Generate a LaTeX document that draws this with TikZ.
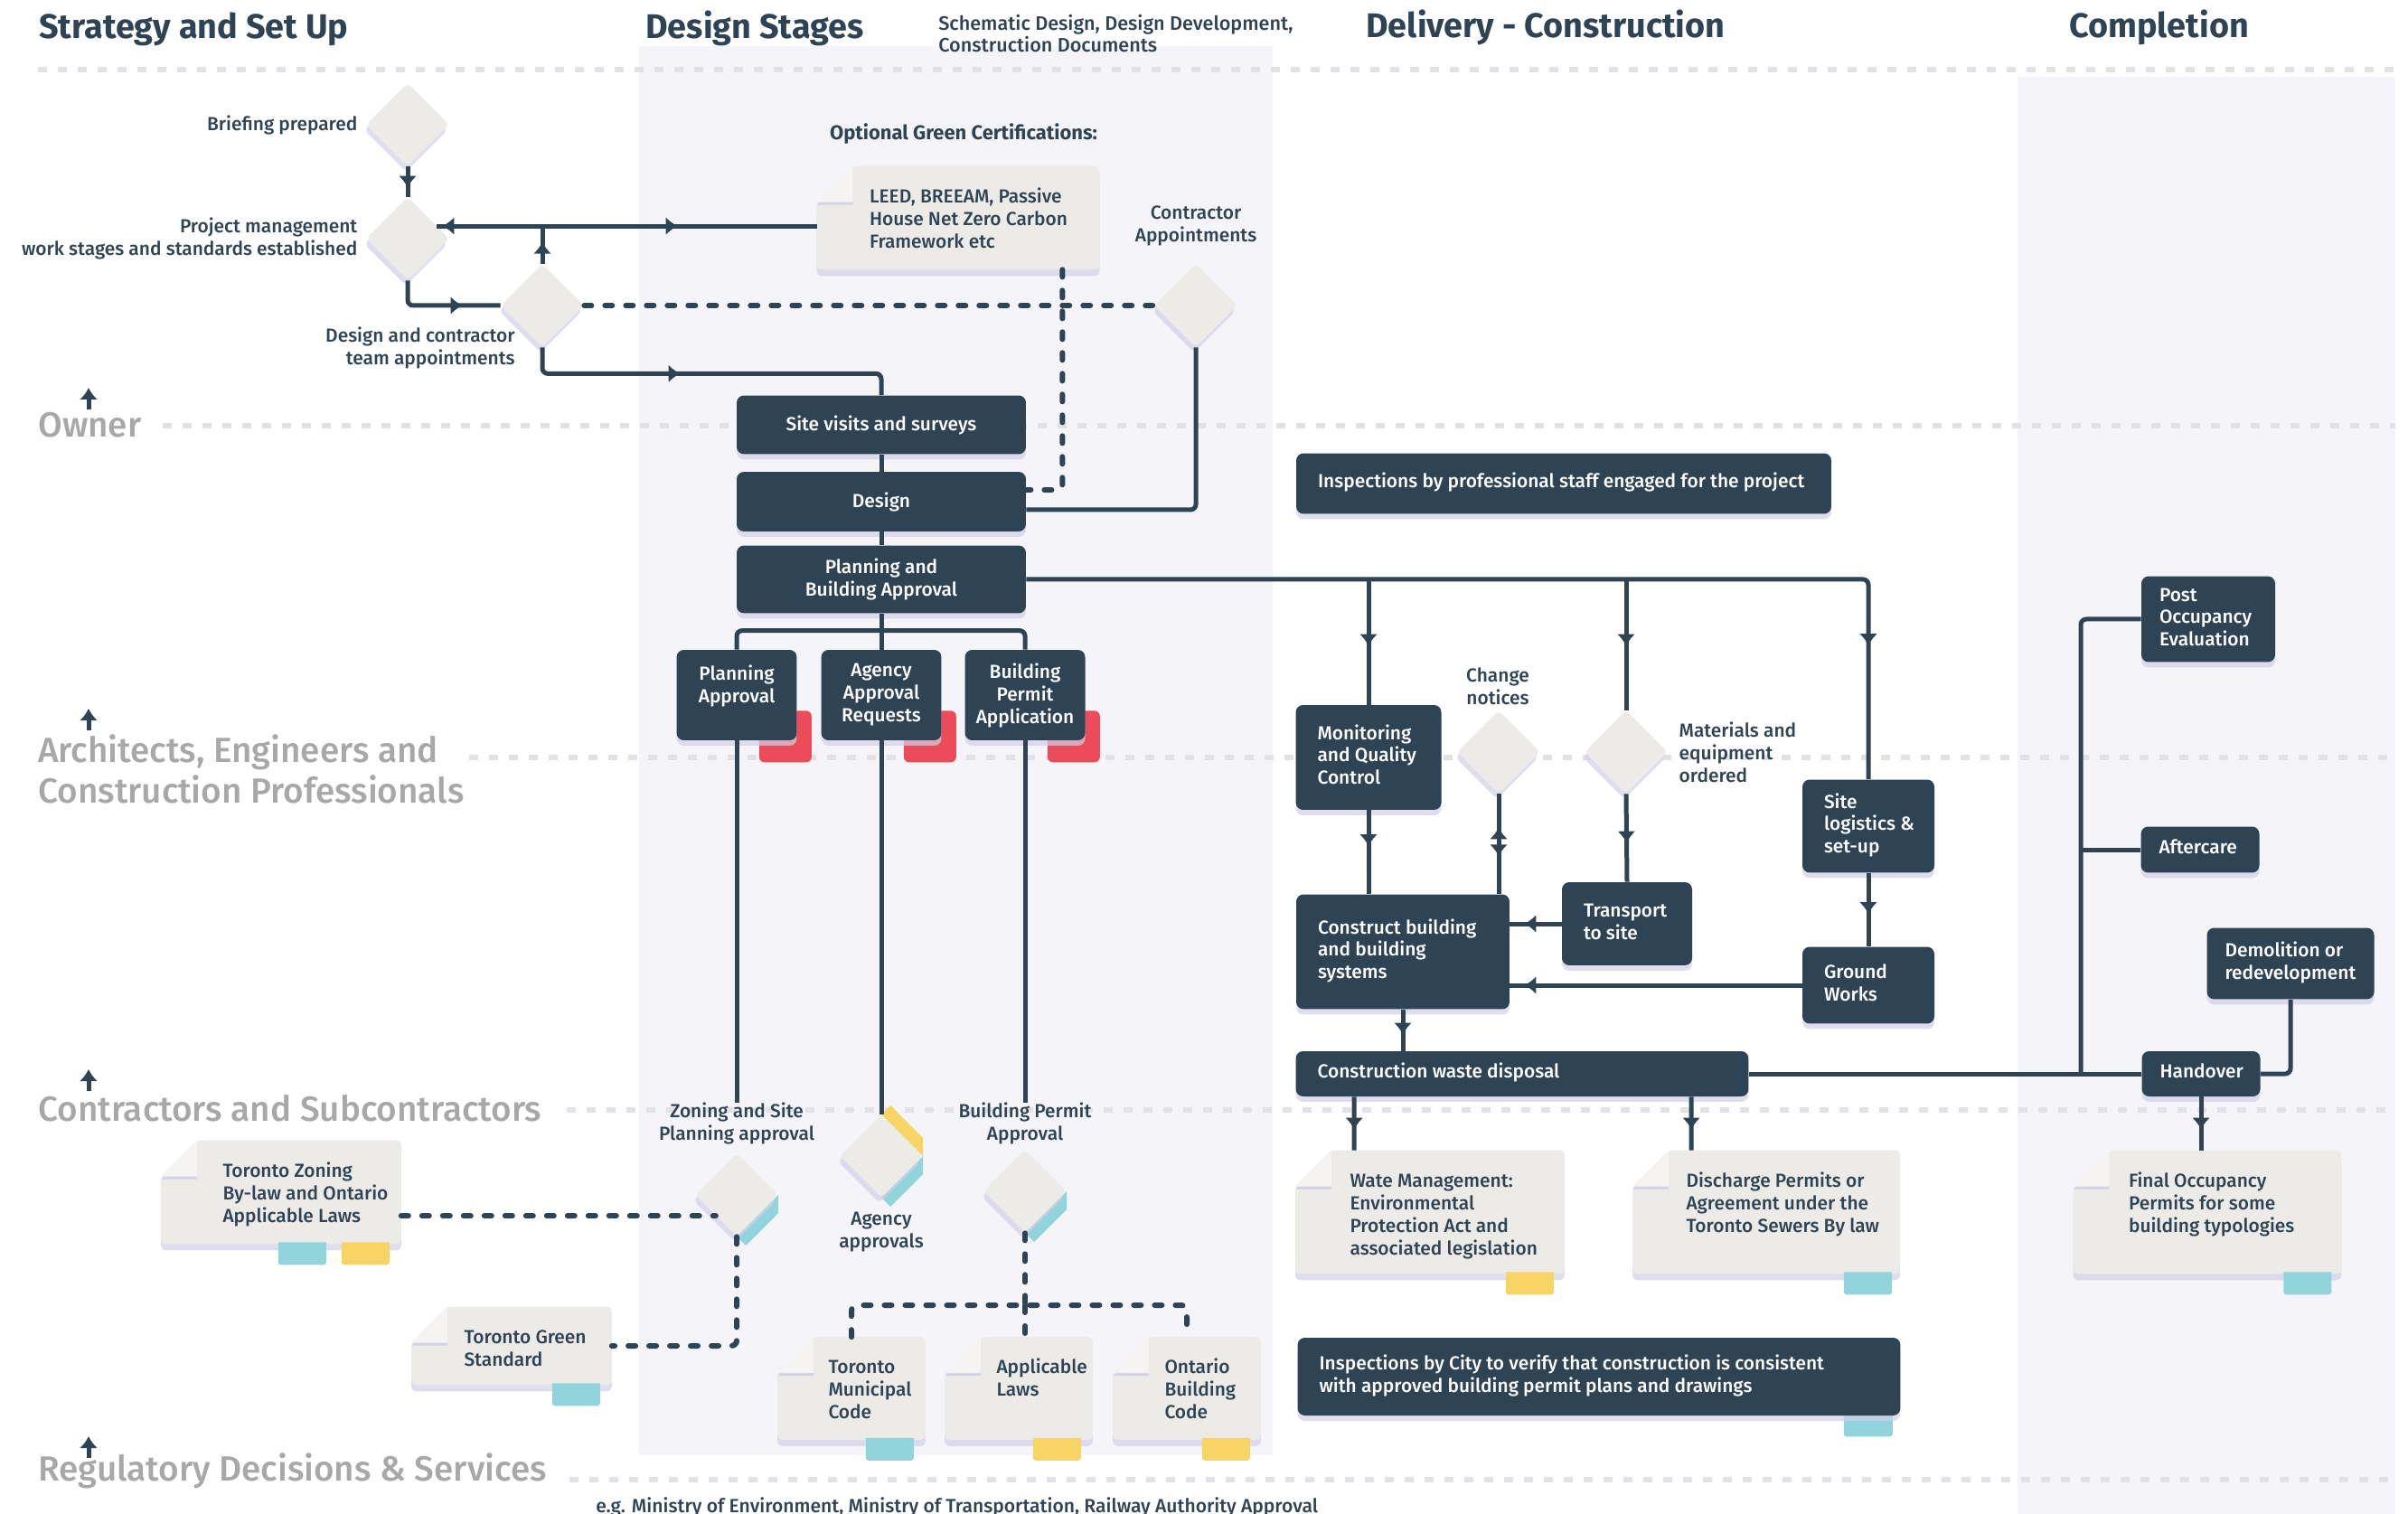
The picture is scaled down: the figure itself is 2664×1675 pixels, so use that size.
\documentclass[tikz,border=0pt]{standalone}
\usepackage{fontspec}
\setmainfont{Fira Sans}[UprightFont={* Medium},BoldFont={* Bold}]
\usetikzlibrary{shapes.geometric,arrows.meta,decorations.markings,shadows,positioning,calc}

\definecolor{navy}{HTML}{2E4354}
\definecolor{paperc}{HTML}{ECEBE8}
\definecolor{flapc}{HTML}{F5F4F2}
\definecolor{bandc}{HTML}{F4F4F9}
\definecolor{lanec}{HTML}{E1E1E6}
\definecolor{labc}{HTML}{A8A8A8}
\definecolor{redc}{HTML}{EC4C5A}
\definecolor{tealc}{HTML}{92D4DB}
\definecolor{yellc}{HTML}{F8D465}
\definecolor{shadc}{HTML}{D2D0E8}

\pgfdeclarelayer{background}
\pgfsetlayers{background,main}

\hfuzz=80pt
\newcommand{\boxfont}{\fontsize{11.9}{14.2}\selectfont}
\newcommand{\lanefont}{\fontsize{22}{25.6}\selectfont}
\newcommand{\headfont}{\fontsize{21.5}{24}\selectfont\bfseries}
\newcommand{\subfont}{\fontsize{12.3}{13.7}\selectfont}

% left set lines of a box, kept to the given width
\newcommand{\leftlines}[2]{\makebox[#1][l]{\begin{tabular}{@{}l@{}}#2\end{tabular}}}
% text of a paper sheet: width, height, left indent, lines
\newcommand{\notetext}[4]{\parbox[c][#2][t]{#1}{\hspace*{#3}\begin{tabular}[t]{@{}l@{}}#4\end{tabular}}}

% sheet with folded corner drawn under a note node
\newcommand{\papersheet}[1]{%
  \fill[paperc, rounded corners=0.1cm,
    drop shadow={shadow xshift=0pt,shadow yshift=-0.14cm,fill=shadc,opacity=0.7}]
    ([xshift=0.8cm]#1.north west) -- (#1.north east) -- (#1.south east)
    -- (#1.south west) -- ([yshift=-0.8cm]#1.north west) -- cycle;
  \fill[flapc, drop shadow={shadow xshift=0pt,shadow yshift=-0.06cm,fill=shadc,opacity=0.9}]
    ([xshift=0.8cm]#1.north west) -- ([yshift=-0.8cm]#1.north west)
    -- ([xshift=0.8cm,yshift=-0.8cm]#1.north west) -- cycle;}

% coloured tab under a sheet: node, colour, shift to the left
\newcommand{\notetab}[3]{%
  \fill[#2, rounded corners=0.06cm] ($(#1.south east)+(-65-#3,-2)$) -- ++(0,25) -- ++(53,0) -- ++(0,-25);}

% coloured strips along a gate
\newcommand{\lowstrip}[2]{%
  \fill[#2] ($(#1)+(46,0)$) -- ($(#1)+(46,20)$) -- ($(#1)+(10,56)$) -- ($(#1)+(0,46)$) -- cycle;}
\newcommand{\highstrip}[2]{%
  \fill[#2] ($(#1)+(0,-46)$) -- ($(#1)+(10,-56)$) -- ($(#1)+(46,-20)$) -- ($(#1)+(46,0)$) -- cycle;}

\begin{document}
\begin{tikzpicture}[x=0.02cm, y=-0.02cm,
    dbox/.style={rectangle, rounded corners=0.16cm, fill=navy, text=white,
      font=\boxfont, inner ysep=0pt,
      drop shadow={shadow xshift=0pt,shadow yshift=-0.12cm,fill=shadc,opacity=0.7}},
    mbox/.style={dbox, inner xsep=0.2cm, align=center},
    lbox/.style={dbox, inner xsep=0.48cm},
    cbox/.style={dbox, inner xsep=0.4cm},
    gate/.style={diamond, aspect=1, minimum width=1.84cm, minimum height=1.84cm,
      inner sep=0pt, rounded corners=0.1cm, fill=paperc,
      drop shadow={shadow xshift=-0.04cm,shadow yshift=-0.12cm,fill=shadc,opacity=0.7}},
    note/.style={inner xsep=0.2cm, inner ysep=0.46cm, font=\boxfont, text=navy},
    lbl/.style={font=\boxfont, text=navy, inner sep=0pt, align=center},
    lanelbl/.style={font=\lanefont, text=labc, inner sep=0pt, align=left},
    stagehead/.style={font=\headfont, text=navy, inner sep=0pt},
    line/.style={draw=navy, line width=0.1cm},
    dashline/.style={draw=navy, line width=0.12cm, line cap=round, dash pattern=on 0.16cm off 0.3cm},
    laneline/.style={draw=lanec, line width=0.12cm, dash pattern=on 0.2cm off 0.24cm},
    tipat/.style={postaction={decorate, decoration={markings,
      mark=at position #1 with {\pgfsetcornersarced{\pgfpointorigin}\arrow{Latex[length=0.26cm,width=0.4cm]}}}}},
    tipback/.style={postaction={decorate, decoration={markings,
      mark=at position #1 with {\pgfsetcornersarced{\pgfpointorigin}\arrowreversed{Latex[length=0.26cm,width=0.4cm]}}}}}
  ]
  \useasboundingbox (0,0) rectangle (2664,1675);

  % stage headings
  \node[stagehead, anchor=base west] (hstrat) at (43,43) {Strategy and Set Up};
  \node[stagehead, anchor=base west] (hdesign) at (714,43) {Design Stages};
  \node[lbl, align=left, anchor=west, font=\subfont] (hsub) at (1038,37) {Schematic Design, Design Development,\\Construction Documents};
  \node[stagehead, anchor=base west] (hdeliv) at (1511,42) {Delivery - Construction};
  \node[stagehead, anchor=base west] (hcompl) at (2289,42) {Completion};

  % swimlanes
  \node[lanelbl, anchor=base west] (owner) at (42,484) {Owner};
  \node[lanelbl, anchor=west] (prof) at (42,851) {Architects, Engineers and\\Construction Professionals};
  \node[lanelbl, anchor=base west] (contr) at (42,1240) {Contractors and Subcontractors};
  \node[lanelbl, anchor=base west] (reg) at (42,1638) {Regulatory Decisions \& Services};
  \foreach \y in {453,808,1207,1613}
    \draw[line, -{Latex[length=0.26cm,width=0.4cm]}] (98,\y) -- ++(0,-24);

  % gates
  \node[gate] (brief) at (451,138) {};
  \node[gate] (pm) at (451,264) {};
  \node[gate] (dc) at (600,338) {};
  \node[gate] (ca) at (1323,338) {};
  \node[gate] (chg) at (1658,832) {};
  \node[gate] (matd) at (1799,832) {};
  \node[gate] (zond) at (815,1322) {};
  \node[gate] (agencyd) at (975,1279) {};
  \node[gate] (bpd) at (1134,1318) {};

  \node[lbl, left=0.18cm of brief] (lbrief) {Briefing prepared};
  \node[lbl, align=right, left=0.18cm of pm] (lpm) {Project management\\work stages and standards established};
  \node[lbl, align=right, anchor=east] (ldc) at (570,385) {Design and contractor\\team appointments};
  \node[lbl] (lca) at (1323,250) {Contractor\\Appointments};
  \node[lbl] (lchg) at (1657,759) {Change\\notices};
  \node[lbl, align=left, right=0.24cm of matd] (lmatd) {Materials and\\equipment\\ordered};
  \node[lbl] (zonlbl) at (815,1243) {Zoning and Site\\Planning approval};
  \node[lbl] (lagency) at (975,1363) {Agency\\approvals};
  \node[lbl] (bplbl) at (1134,1243) {Building Permit\\Approval};
  \node[lbl, font=\fontsize{12.5}{14}\selectfont\bfseries] (optgreen) at (1066,148) {Optional Green Certifications:};
  \node[lbl, anchor=base west, font=\fontsize{12}{14}\selectfont] (egmin) at (659,1673) {e.g. Ministry of Environment, Ministry of Transportation, Railway Authority Approval};

  % design stages
  \node[mbox, minimum width=6.4cm, minimum height=1.3cm] (site) at (975,470) {Site visits and surveys};
  \node[mbox, minimum width=6.4cm, minimum height=1.32cm] (des) at (975,555) {Design};
  \node[mbox, minimum width=6.4cm, minimum height=1.5cm] (planbld) at (975,641) {Planning and\\Building Approval};
  \node[mbox, minimum width=2.66cm, minimum height=2cm] (planappr) at (815,769) {Planning\\Approval\\\mbox{}};
  \node[mbox, minimum width=2.66cm, minimum height=2cm] (agency) at (975,769) {Agency\\Approval\\Requests};
  \node[mbox, minimum width=2.66cm, minimum height=2cm] (bpa) at (1134,769) {Building\\Permit\\Application};

  % delivery
  \node[lbox, minimum height=1.34cm] (insp) at (1730,535) {\leftlines{10.88cm}{Inspections by professional staff engaged for the project}};
  \node[lbox, minimum height=2.32cm] (monitor) at (1514,838) {\leftlines{2.26cm}{Monitoring\\and Quality\\Control}};
  \node[lbox, minimum height=2.06cm] (sitelog) at (2067,914) {\leftlines{1.96cm}{Site\\logistics \&\\set-up}};
  \node[lbox, minimum height=1.84cm] (transport) at (1800,1022) {\leftlines{1.92cm}{Transport\\to site}};
  \node[lbox, minimum height=2.54cm] (construct) at (1552,1053) {\leftlines{3.76cm}{Construct building\\and building\\systems}};
  \node[lbox, minimum height=1.7cm] (ground) at (2067,1090) {\leftlines{1.96cm}{Ground\\Works}};
  \node[lbox, minimum height=1cm] (waste) at (1684,1188) {\leftlines{9.06cm}{Construction waste disposal}};
  \node[lbox, minimum height=1.72cm] (inspcity) at (1769,1523) {\leftlines{12.38cm}{Inspections by City to verify that construction is consistent\\with approved building permit plans and drawings}};

  % completion
  \node[cbox, minimum height=1.9cm] (poe) at (2443,685) {\leftlines{2.16cm}{Post\\Occupancy\\Evaluation}};
  \node[cbox, minimum height=1.02cm] (aftercare) at (2434,940) {\leftlines{1.82cm}{Aftercare}};
  \node[cbox, minimum height=1.58cm] (demol) at (2534,1066) {\leftlines{2.9cm}{Demolition or\\redevelopment}};
  \node[cbox, minimum height=1cm] (handover) at (2435,1188) {\leftlines{1.82cm}{Handover}};

  % paper notes
  \node[note] (leed) at (1060,241) {\notetext{5.84cm}{1.36cm}{0.96cm}{LEED, BREEAM, Passive\\House Net Zero Carbon\\Framework etc}};
  \node[note] (tzoning) at (311,1319) {\notetext{4.9cm}{1.36cm}{1.16cm}{Toronto Zoning\\By-law and Ontario\\Applicable Laws}};
  \node[note] (tgreen) at (566,1489) {\notetext{4.02cm}{0.8cm}{0.96cm}{Toronto Green\\Standard}};
  \node[note] (tmuni) at (942,1536) {\notetext{2.86cm}{1.34cm}{0.92cm}{Toronto\\Municipal\\Code}};
  \node[note] (applaws) at (1127,1536) {\notetext{2.86cm}{1.34cm}{0.94cm}{Applicable\\Laws}};
  \node[note] (ontario) at (1313,1536) {\notetext{2.86cm}{1.34cm}{0.94cm}{Ontario\\Building\\Code}};
  \node[note] (watemgmt) at (1582,1341) {\notetext{5.54cm}{1.8cm}{1cm}{Wate Management:\\Environmental\\Protection Act and\\associated legislation}};
  \node[note] (discharge) at (1954,1341) {\notetext{5.5cm}{1.8cm}{0.98cm}{Discharge Permits or\\Agreement under the\\Toronto Sewers By law}};
  \node[note] (finalocc) at (2442,1341) {\notetext{5.52cm}{1.8cm}{1.02cm}{Final Occupancy\\Permits for some\\building typologies}};

  % owner paths
  \coordinate (pmjoin) at ($(pm.north east)!0.4!(pm.east)$);
  \draw[line, tipat=-0.2cm] (brief.south) -- (pm.north);
  \draw[line, tipat=-0.12cm, tipback=3.08cm] (leed.west |- pmjoin) -- (pmjoin);
  \draw[line, tipat=0.48cm] (dc.north) -- (dc.north |- pmjoin);
  \draw[line, rounded corners=0.12cm, tipat=-0.84cm] (pm.south) |- (dc.west);
  \draw[dashline] (dc.east) -- (ca.west);
  \draw[dashline, rounded corners=0.12cm] ([xshift=-0.82cm]leed.south east) |- ([yshift=0.26cm]des.east);
  \draw[line, rounded corners=0.12cm] (ca.south) |- ([yshift=-0.18cm]des.east);
  \draw[line, rounded corners=0.12cm, tipat=3.58cm] (dc.south) -- ++(0,29) -| (site.north);

  % design paths
  \draw[line] (site) -- (des);
  \draw[line] (des) -- (planbld);
  \draw[line] (planbld) -- (agency);
  \draw[line, rounded corners=0.12cm] (planappr.north) -- ++(0,-21) -| (bpa.north);
  \draw[line] (planappr) -- (zonlbl);
  \draw[line] (agency) -- (agencyd);
  \draw[line] (bpa) -- (bplbl);

  % regulatory paths
  \coordinate (permsplit) at (1134,1444);
  \draw[dashline] (tzoning.east |- zond.south west) -- (zond.south west);
  \draw[dashline, rounded corners=0.12cm] (zond.south) |- (tgreen.east);
  \draw[dashline] (bpd.south) -- (permsplit);
  \draw[dashline, rounded corners=0.12cm] (tmuni.north) |- (permsplit) -| (ontario.north);
  \draw[dashline] (permsplit) -- (permsplit |- applaws.north);

  % delivery paths
  \draw[line, rounded corners=0.12cm, tipat=-2.96cm] (planbld.east) -| (sitelog.north);
  \draw[line, tipat=-1.3cm] (monitor.north |- planbld.east) -- (monitor.north);
  \draw[line, tipat=-1.42cm] (matd.north |- planbld.east) -- (matd.north);
  \draw[line, tipat=-1.06cm] (monitor.south) -- (monitor.south |- construct.north);
  \draw[line, tipback=0.74cm, tipat=1.38cm] (chg.south) -- (chg.south |- construct.north);
  \draw[line, tipat=-0.86cm] (matd.south) -- (transport.north);
  \draw[line, tipat=-0.32cm] (transport.west) -- (transport.west -| construct.east);
  \draw[line, tipat=-0.72cm] (sitelog.south) -- (ground.north);
  \draw[line, tipat=-0.32cm] (ground.west) -- (ground.west -| construct.east);
  \draw[line, tipat=-0.36cm] (construct.south) -- (construct.south |- waste.north);
  \draw[line] (waste.east) -- (handover.west);
  \draw[line, tipat=-0.46cm] ([xshift=1.3cm]waste.south west) -- ([xshift=1.3cm]watemgmt.north west);
  \draw[line, tipat=-0.46cm] ([xshift=8.76cm]waste.south west) -- ([xshift=1.3cm]discharge.north west);

  % completion paths
  \coordinate (spine) at (2302,1188);
  \draw[line, rounded corners=0.12cm] (poe.west) -| (spine);
  \draw[line] (aftercare.west) -- (aftercare.west -| spine);
  \draw[line, rounded corners=0.12cm] (demol.south) |- (handover.east);
  \draw[line, tipat=-0.46cm] (handover.south) -- (handover.south |- finalocc.north);

  \begin{pgfonlayer}{background}
    \fill[white] (0,0) rectangle (2664,1675);
    \fill[bandc] (707,51) rectangle (1408,1610);
    \fill[bandc] (2232,85) rectangle (2650,1675);
    \foreach \x/\y in {42/77, 180/471, 519/838, 627/1228, 630/1637}
      \draw[laneline] (\x,\y) -- (2650,\y);
    % red flags behind the approval boxes
    \foreach \bx in {planappr, agency, bpa}
      \fill[redc, rounded corners=0.12cm] ($(\bx.south east)+(-42,-33)$) rectangle ($(\bx.south east)+(16,24)$);
    % strips on the approval gates
    \lowstrip{zond}{tealc}
    \lowstrip{agencyd}{tealc}
    \highstrip{agencyd}{yellc}
    \lowstrip{bpd}{tealc}
    \fill[tealc, rounded corners=0.06cm] ($(inspcity.south east)+(-63,-10)$) rectangle ($(inspcity.south east)+(-9,23)$);
    % sheets, then their tabs
    \foreach \n in {leed, tzoning, tgreen, tmuni, applaws, ontario, watemgmt, discharge, finalocc}
      \papersheet{\n};
    \notetab{tzoning}{tealc}{71}
    \notetab{tzoning}{yellc}{1}
    \notetab{tgreen}{tealc}{1}
    \notetab{tmuni}{tealc}{1}
    \notetab{applaws}{yellc}{1}
    \notetab{ontario}{yellc}{0}
    \notetab{watemgmt}{yellc}{0}
    \notetab{discharge}{tealc}{-3}
    \notetab{finalocc}{tealc}{-1}
  \end{pgfonlayer}
\end{tikzpicture}
\end{document}
